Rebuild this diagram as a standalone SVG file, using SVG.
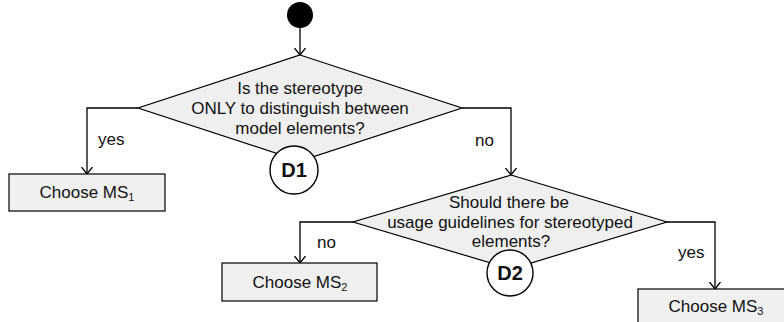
<svg xmlns="http://www.w3.org/2000/svg" width="784" height="322" viewBox="0 0 784 322">
  <defs>
    <marker id="arrow" markerUnits="userSpaceOnUse" markerWidth="10" markerHeight="14" refX="7.5" refY="6" orient="auto">
      <path d="M0.5,0.5 L7.5,6 L0.5,11.5" fill="none" stroke="#000" stroke-width="1.3"/>
    </marker>
    <style>
      .decision { fill: #efefef; stroke: #000; stroke-width: 1.2; }
      .action { fill: #f0f0f0; stroke: #000; stroke-width: 1.2; }
      .tag { fill: #fff; stroke: #000; stroke-width: 1.4; }
      .conn { fill: none; stroke: #000; stroke-width: 1.3; marker-end: url(#arrow); }
      text { font-family: "Liberation Sans", Arial, sans-serif; font-size: 17px; fill: #111; }
      .mid { text-anchor: middle; }
      .tagtext { font-weight: bold; font-size: 20px; text-anchor: middle; }
      .sub { font-size: 11px; }
    </style>
  </defs>

  <rect width="784" height="322" fill="#fff"/>

  <!-- connectors -->
  <g id="connectors">
    <path class="conn" d="M300,28 L300,55"/>
    <path class="conn" d="M138,108 L87,108 L87,174"/>
    <path class="conn" d="M462,108 L511,108 L511,175"/>
    <path class="conn" d="M353,222 L300,222 L300,263"/>
    <path class="conn" d="M667,222 L715,222 L715,289"/>
    <text x="98" y="145">yes</text>
    <text x="475" y="146">no</text>
    <text x="317" y="248">no</text>
    <text x="678" y="258">yes</text>
  </g>

  <!-- initial node -->
  <g id="start">
    <circle cx="300" cy="15" r="13" fill="#000"/>
  </g>

  <!-- decision D1 -->
  <g id="d1">
    <polygon class="decision" points="300,55 462,108 300,161 138,108"/>
    <text class="mid" x="300" y="94">Is the stereotype</text>
    <text class="mid" x="300" y="114">ONLY to distinguish between</text>
    <text class="mid" x="300" y="134">model elements?</text>
    <circle class="tag" cx="294" cy="170" r="24"/>
    <text class="tagtext" x="294" y="177">D1</text>
  </g>

  <!-- decision D2 -->
  <g id="d2">
    <polygon class="decision" points="511,175 667,222 511,269 353,222"/>
    <text class="mid" x="509" y="208">Should there be</text>
    <text class="mid" x="510" y="228">usage guidelines for stereotyped</text>
    <text class="mid" x="511" y="247">elements?</text>
    <circle class="tag" cx="510" cy="273" r="23"/>
    <text class="tagtext" x="510" y="280">D2</text>
  </g>

  <!-- outcomes -->
  <g id="ms1">
    <rect class="action" x="9" y="174" width="156" height="37"/>
    <text class="mid" x="87" y="198">Choose MS<tspan class="sub" dy="3">1</tspan></text>
  </g>
  <g id="ms2">
    <rect class="action" x="222" y="263" width="155" height="38"/>
    <text class="mid" x="300" y="288">Choose MS<tspan class="sub" dy="3">2</tspan></text>
  </g>
  <g id="ms3">
    <rect class="action" x="638" y="289" width="156" height="37"/>
    <text class="mid" x="716" y="312">Choose MS<tspan class="sub" dy="3">3</tspan></text>
  </g>
</svg>
